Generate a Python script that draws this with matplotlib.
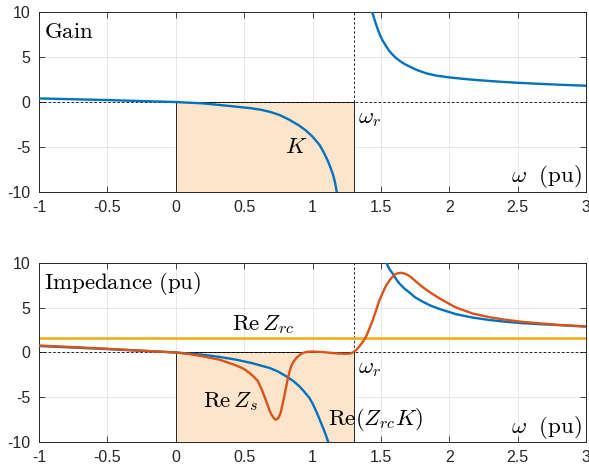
import matplotlib
matplotlib.use("Agg")
import matplotlib.pyplot as plt
from matplotlib.patches import Rectangle
import numpy as np

plt.rcParams.update({"font.family": "Liberation Sans", "font.size": 10,
                     "mathtext.fontset": "cm", "axes.unicode_minus": False})

# values
w_r = 1.3
re_zrc = 1.6

# Gain K, two branches around the resonance
w_K_lo = [-1.0, -0.75, -0.5, -0.25, 0.0, 0.2, 0.4, 0.54, 0.62, 0.69, 0.76, 0.83,
          0.9, 0.95, 1.0, 1.05, 1.08, 1.11, 1.13, 1.15, 1.165, 1.18]
K_lo = [0.40, 0.31, 0.22, 0.11, 0.0, -0.15, -0.45, -0.67, -0.85, -1.1, -1.45, -1.97,
        -2.6, -3.15, -3.85, -4.75, -5.55, -6.5, -7.25, -8.1, -9.0, -10.3]
w_K_hi = [1.43, 1.436, 1.45, 1.465, 1.48, 1.494, 1.51, 1.54, 1.56, 1.586, 1.61,
          1.64, 1.67, 1.708, 1.74, 1.77, 1.83, 1.9, 2.0, 2.1, 2.19, 2.35, 2.49,
          2.65, 2.8, 3.0]
K_hi = [10.5, 10.0, 9.3, 8.6, 7.95, 7.4, 6.9, 6.15, 5.7, 5.25, 4.9, 4.55, 4.25,
        3.96, 3.72, 3.52, 3.2, 2.95, 2.74, 2.58, 2.46, 2.28, 2.15, 2.03, 1.93, 1.81]

# Re(Zrc K)
w_ZK_lo = [-1.0, -0.75, -0.5, -0.25, 0.0, 0.2, 0.32, 0.443, 0.56, 0.686, 0.75,
           0.808, 0.86, 0.905, 0.94, 0.978, 1.0, 1.02, 1.04, 1.06, 1.08, 1.1,
           1.112, 1.125]
ZK_lo = [0.72, 0.55, 0.38, 0.19, 0.0, -0.26, -0.5, -0.81, -1.2, -1.73, -2.15,
         -2.67, -3.2, -3.8, -4.4, -5.1, -5.7, -6.35, -7.05, -7.8, -8.55, -9.35,
         -9.9, -10.6]
w_ZK_hi = [1.535, 1.54, 1.56, 1.586, 1.61, 1.635, 1.67, 1.708, 1.75, 1.805,
           1.86, 1.927, 2.05, 2.17, 2.29, 2.41, 2.535, 2.66, 2.78, 2.9, 3.0]
ZK_hi = [10.3, 10.0, 9.35, 8.8, 8.2, 7.7, 7.15, 6.7, 6.15, 5.67, 5.25, 4.86,
         4.27, 3.9, 3.63, 3.43, 3.27, 3.16, 3.07, 2.98, 2.9]

# Re Zs
w_Zs = [-1.0, -0.75, -0.5, -0.25, 0.0, 0.1, 0.2, 0.32, 0.44, 0.5, 0.54, 0.57,
        0.6, 0.625, 0.65, 0.67, 0.686, 0.7, 0.71, 0.72, 0.73, 0.74, 0.75, 0.758,
        0.766, 0.78, 0.796, 0.808, 0.82, 0.832, 0.844, 0.856, 0.869, 0.885, 0.9,
        0.915, 0.93, 0.96, 1.0, 1.075, 1.172, 1.245, 1.275, 1.294, 1.32, 1.343,
        1.368, 1.392, 1.415, 1.44, 1.465, 1.489, 1.515, 1.538, 1.57, 1.599,
        1.625, 1.648, 1.675, 1.708, 1.75, 1.805, 1.86, 1.927, 2.0, 2.049, 2.17,
        2.29, 2.41, 2.535, 2.66, 2.779, 2.9, 3.0]
Zs = [0.78, 0.6, 0.41, 0.2, 0.0, -0.18, -0.44, -0.81, -1.44, -1.85, -2.3, -2.7,
      -3.2, -4.0, -5.0, -5.8, -6.5, -6.95, -7.2, -7.4, -7.5, -7.45, -7.3, -7.05,
      -6.75, -5.8, -4.7, -3.75, -2.85, -2.1, -1.5, -1.15, -0.85, -0.55, -0.35,
      -0.17, -0.05, 0.07, 0.1, 0.05, -0.1, -0.15, -0.12, 0.0, 0.3, 0.7,
      1.2, 1.8, 2.65, 3.6, 4.75, 5.85, 6.75, 7.5, 8.2, 8.7,
      8.85, 8.9, 8.8, 8.55, 8.0, 7.3, 6.7, 6.05, 5.42, 5.02, 4.35,
      3.95, 3.65, 3.42, 3.25, 3.1, 2.98, 2.9]

xticks = [-1, -0.5, 0, 0.5, 1, 1.5, 2, 2.5, 3]
xlabels = ['-1', '-0.5', '0', '0.5', '1', '1.5', '2', '2.5', '3']
yticks = [-10, -5, 0, 5, 10]
ylabels = ['-10', '-5', '0', '5', '10']

BLUE = "#0072BD"
ORANGE = "#D95319"
YELLOW = "#EDB120"
PEACH = "#FDE5CC"
DARK = "#262626"
FS = 16.5

fig = plt.figure(figsize=(5.89, 4.67), dpi=100)
ax1 = fig.add_axes([0.0662, 0.589, 0.929, 0.385])
ax2 = fig.add_axes([0.0662, 0.0535, 0.929, 0.3835])


def style(ax):
    ax.set_xlim(-1, 3)
    ax.set_ylim(-10, 10)
    ax.set_xticks(xticks)
    ax.set_xticklabels(xlabels)
    ax.set_yticks(yticks)
    ax.set_yticklabels(ylabels)
    ax.set_axisbelow(True)
    ax.grid(True, color="#e3e3e3", linewidth=0.6)
    ax.tick_params(direction="in", top=True, right=True, length=4,
                   width=0.6, color=DARK, labelcolor=DARK, labelsize=11.5, pad=6)
    for s in ax.spines.values():
        s.set_color(DARK)
        s.set_linewidth(0.7)
    ax.add_patch(Rectangle((0, -10), w_r, 10, facecolor=PEACH,
                           edgecolor=DARK, linewidth=0.7, zorder=1))
    ax.plot([-1, 3], [0, 0], '--', color="k", linewidth=0.6, dashes=(3, 2.5), zorder=1.5)
    ax.plot([w_r, w_r], [0, 10], '--', color="k", linewidth=0.6, dashes=(3, 2.5), zorder=1.5)


style(ax1)
ax1.plot(w_K_lo, K_lo, color=BLUE, linewidth=1.7, zorder=3)
ax1.plot(w_K_hi, K_hi, color=BLUE, linewidth=1.7, zorder=3)
ax1.text(-0.96, 7.9, r'$\mathrm{Gain}$', fontsize=FS, va='center', ha='left')
ax1.text(0.88, -5.0, r'$K$', fontsize=FS, va='center', ha='center')
ax1.text(1.33, -1.7, r'$\omega_r$', fontsize=FS, va='center', ha='left')
ax1.text(2.97, -8.3, r'$\omega\ \ \mathrm{(pu)}$', fontsize=FS, va='center', ha='right')

style(ax2)
ax2.plot([-1, 3], [re_zrc, re_zrc], color=YELLOW, linewidth=1.9, zorder=2.5)
ax2.plot(w_ZK_lo, ZK_lo, color=BLUE, linewidth=1.7, zorder=3)
ax2.plot(w_ZK_hi, ZK_hi, color=BLUE, linewidth=1.7, zorder=3)
ax2.plot(w_Zs, Zs, color=ORANGE, linewidth=1.7, zorder=4)
ax2.text(-0.96, 7.7, r'$\mathrm{Impedance\ (pu)}$', fontsize=FS, va='center', ha='left')
ax2.text(0.635, 3.1, r'$\mathrm{Re}\,Z_{rc}$', fontsize=FS, va='center', ha='center')
ax2.text(0.40, -5.5, r'$\mathrm{Re}\,Z_s$', fontsize=FS, va='center', ha='center')
ax2.text(1.46, -7.5, r'$\mathrm{Re}(Z_{rc}K)$', fontsize=FS, va='center', ha='center')
ax2.text(1.33, -1.7, r'$\omega_r$', fontsize=FS, va='center', ha='left')
ax2.text(2.97, -8.4, r'$\omega\ \ \mathrm{(pu)}$', fontsize=FS, va='center', ha='right')

fig.savefig("out.png", dpi=100)
